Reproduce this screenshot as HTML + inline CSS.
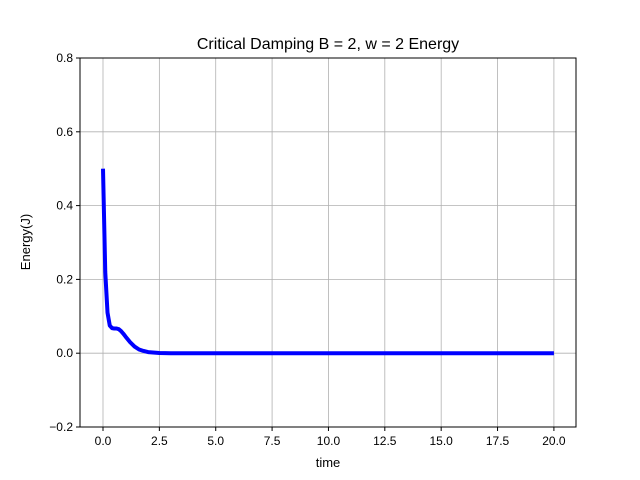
<!DOCTYPE html>
<html><head><meta charset="utf-8"><style>
body{margin:0;background:#fff;}
svg{display:block;font-family:"Liberation Sans","DejaVu Sans",sans-serif;}
</style></head><body>
<svg id="chart" width="640" height="480">
<rect width="640" height="480" fill="#fff"/>
<text x="328" y="49" font-size="16" text-anchor="middle">Critical Damping B = 2, w = 2 Energy</text>
<g id="grid"></g>
<g id="ticks"></g>
<path id="line" fill="none" stroke="#0000ff" stroke-width="4" stroke-linejoin="round"/>
<rect x="80" y="58" width="496" height="369" fill="none" stroke="#000" stroke-width="1"/>
<text x="328" y="467" font-size="13" text-anchor="middle">time</text>
<text x="30" y="242" font-size="13" text-anchor="middle" transform="rotate(-90 30 242)">Energy(J)</text>
</svg>
<script>
const times=[0,0.1,0.2,0.3,0.4,0.5,0.6,0.7,0.8,0.9,1.0,1.2,1.4,1.6,1.8,2.0,2.5,3.0,5,10,15,20];
const energy=[0.5,0.22,0.11,0.075,0.068,0.067,0.067,0.065,0.06,0.053,0.045,0.03,0.018,0.01,0.006,0.003,0.0005,0,0,0,0,0];
const xTicks=[0,2.5,5,7.5,10,12.5,15,17.5,20];
const xTickLabels=["0.0","2.5","5.0","7.5","10.0","12.5","15.0","17.5","20.0"];
const yTicks=[-0.2,0,0.2,0.4,0.6,0.8];
const yTickLabels=["−0.2","0.0","0.2","0.4","0.6","0.8"];
const X0=80,X1=576,Y0=427,Y1=58,xmin=-1.02,xmax=20.98,ymin=-0.2,ymax=0.8;
const sx=v=>X0+(v-xmin)/(xmax-xmin)*(X1-X0);
const sy=v=>Y0-(v-ymin)/(ymax-ymin)*(Y0-Y1);
const NS="http://www.w3.org/2000/svg";
const grid=document.getElementById('grid'),ticks=document.getElementById('ticks');
function mk(tag,attrs,parent){const e=document.createElementNS(NS,tag);for(const k in attrs)e.setAttribute(k,attrs[k]);parent.appendChild(e);return e;}
xTicks.forEach((t,i)=>{const x=sx(t);
const g=mk('line',{x1:x,x2:x,y1:Y1,y2:Y0,stroke:'#b0b0b0','stroke-width':0.8},grid);


const tk=mk('line',{x1:x,x2:x,y1:Y0,y2:Y0+4,stroke:'#000'},ticks);


const tx=mk('text',{x:x,y:Y0+18,'font-size':12,'text-anchor':'middle'},ticks);tx.textContent=xTickLabels[i];

});
yTicks.forEach((t,i)=>{const y=sy(t);
const g=mk('line',{x1:X0,x2:X1,y1:y,y2:y,stroke:'#b0b0b0','stroke-width':0.8},grid);


const tk=mk('line',{x1:X0-4,x2:X0,y1:y,y2:y,stroke:'#000'},ticks);


const tx=mk('text',{x:X0-7,y:y+4,'font-size':12,'text-anchor':'end'},ticks);tx.textContent=yTickLabels[i];

});
document.getElementById('line').setAttribute('d',times.map((t,i)=>(i?'L':'M')+sx(t).toFixed(2)+','+sy(energy[i]).toFixed(2)).join(''));
</script>
</body></html>
